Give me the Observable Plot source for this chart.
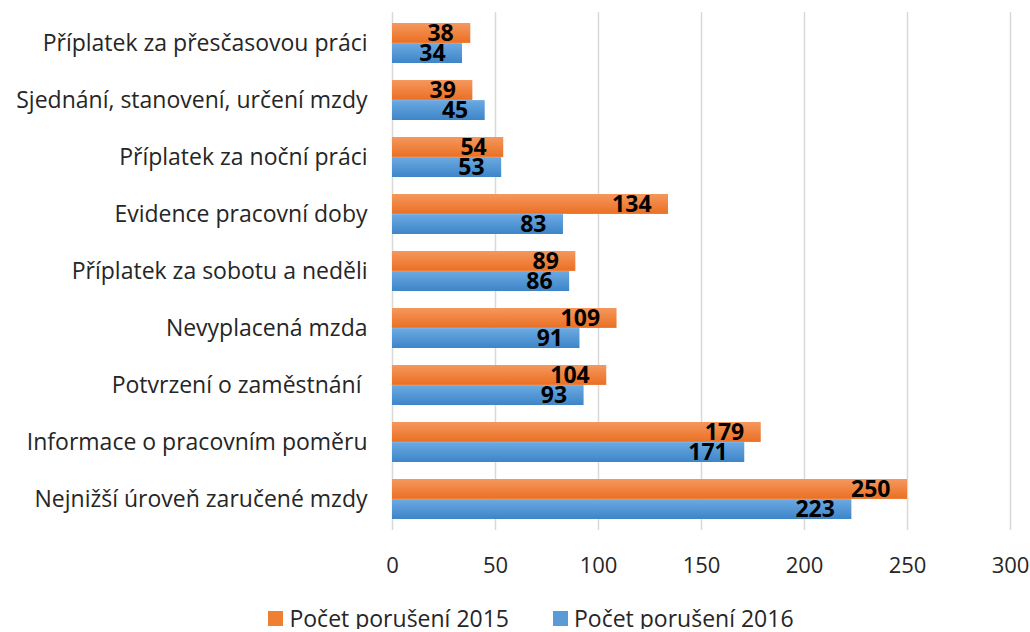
<!DOCTYPE html>
<html>
<head>
<meta charset="utf-8">
<script src="https://cdn.jsdelivr.net/npm/d3@7"></script>
<script src="https://cdn.jsdelivr.net/npm/@observablehq/plot@0.6"></script>
<style>
  html, body { margin: 0; padding: 0; background: #fff; overflow: hidden; }
  #chart { width: 1030px; }
  .legend { display: flex; justify-content: center; align-items: center; gap: 44px; margin-top: 17px;
    padding-left: 32px; height: 22px; line-height: 22px;
    font-family: "Open Sans", Lato, sans-serif; font-size: 23px; color: #262626; }
  .legend .item { display: flex; align-items: center; }
  .legend .sw { width: 15px; height: 15px; margin-right: 6px; }
</style>
</head>
<body>
<div id="chart"></div>
<script>
const categories = [
  "Příplatek za přesčasovou práci",
  "Sjednání, stanovení, určení mzdy",
  "Příplatek za noční práci",
  "Evidence pracovní doby",
  "Příplatek za sobotu a neděli",
  "Nevyplacená mzda",
  "Potvrzení o zaměstnání ",
  "Informace o pracovním poměru",
  "Nejnižší úroveň zaručené mzdy"
];
const v2015 = [38, 39, 54, 134, 89, 109, 104, 179, 250];
const v2016 = [34, 45, 53, 83, 86, 91, 93, 171, 223];
const seriesNames = ["Počet porušení 2015", "Počet porušení 2016"];
const xTicks = [0, 50, 100, 150, 200, 250, 300];

const rows15 = categories.map((c, i) => ({cat: c, value: v2015[i]}));
const rows16 = categories.map((c, i) => ({cat: c, value: v2016[i]}));

const half = 20.1;
const labelFont = {fontFamily: "'Open Sans', Lato, sans-serif", fontSize: 23, fontWeight: "bold", fill: "#000"};

const plot = Plot.plot({
  width: 1030,
  height: 590,
  marginLeft: 392,
  marginRight: 20,
  marginTop: 12,
  marginBottom: 60,
  style: {fontFamily: "'Open Sans', Lato, sans-serif", fontSize: "22px", color: "#262626", background: "#fff"},
  x: {domain: [0, 300], ticks: xTicks, tickSize: 0, tickPadding: 27, label: null},
  y: {domain: categories, paddingInner: 0.3, paddingOuter: 0.15, tickSize: 0, tickPadding: 25, label: null},
  marks: [
    Plot.gridX(xTicks, {stroke: "#D9D9D9", strokeOpacity: 1, strokeWidth: 1.5}),
    Plot.barX(rows15, {y: "cat", x: "value", fill: "url(#gOrange)", insetBottom: half}),
    Plot.barX(rows16, {y: "cat", x: "value", fill: "url(#gBlue)", insetTop: half}),
    Plot.text(rows15, {y: "cat", x: "value", text: d => String(d.value), textAnchor: "end", dx: -17, dy: -10, ...labelFont}),
    Plot.text(rows16, {y: "cat", x: "value", text: d => String(d.value), textAnchor: "end", dx: -17, dy: 10, ...labelFont})
  ]
});

const svg = d3.select(plot);
svg.selectAll("[aria-label='y-axis tick label'] text").style("font-size", "23px");
const defs = svg.insert("defs", ":first-child");
function grad(id, top, bottom) {
  const g = defs.append("linearGradient").attr("id", id).attr("x1", 0).attr("y1", 0).attr("x2", 0).attr("y2", 1);
  g.append("stop").attr("offset", "0%").attr("stop-color", top);
  g.append("stop").attr("offset", "100%").attr("stop-color", bottom);
}
grad("gOrange", "#F4985E", "#EB6F22");
grad("gBlue", "#6CAAE2", "#3D85C8");

document.getElementById("chart").appendChild(plot);

const legend = d3.select("#chart").append("div").attr("class", "legend");
const swatchColors = ["#EF7F33", "#5B9BD5"];
seriesNames.forEach((name, i) => {
  const item = legend.append("div").attr("class", "item");
  item.append("div").attr("class", "sw").style("background", swatchColors[i]);
  item.append("span").text(name);
});
</script>
</body>
</html>
